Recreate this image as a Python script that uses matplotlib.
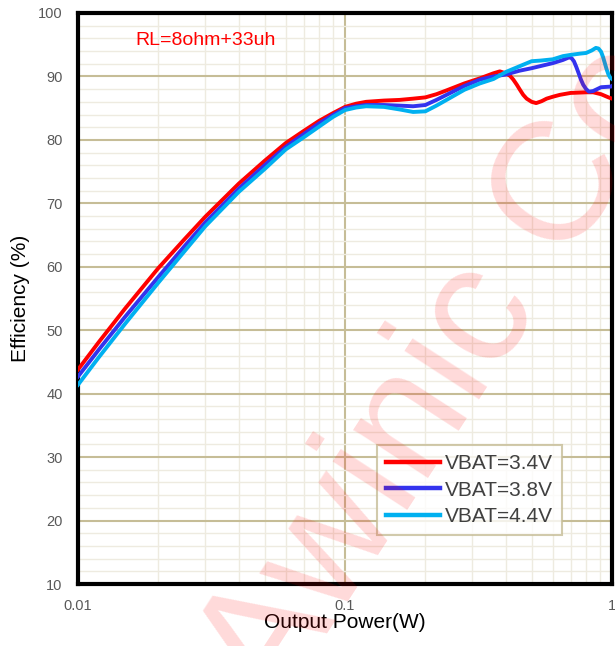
import numpy as np
import matplotlib.pyplot as plt
from matplotlib.ticker import MultipleLocator, LogLocator, FixedLocator, FixedFormatter, NullFormatter

plt.rcParams['font.family'] = ['Liberation Sans', 'DejaVu Sans']

# Datos
x_lo = [0.01, 0.012, 0.015, 0.02, 0.025, 0.03, 0.04, 0.05, 0.06, 0.07, 0.08, 0.09, 0.1]
red_lo = [43.8, 48.2, 53.4, 59.8, 64.3, 67.9, 73.1, 76.7, 79.5, 81.4, 83.0, 84.2, 85.2]
blue_lo = [42.7, 47.0, 52.1, 58.4, 63.2, 67.0, 72.3, 76.0, 78.9, 80.9, 82.6, 83.9, 85.0]
cyan_lo = [41.4, 45.8, 51.0, 57.5, 62.4, 66.4, 71.8, 75.4, 78.5, 80.4, 82.1, 83.6, 84.7]

x_red_hi = [0.11, 0.12, 0.14, 0.16, 0.18, 0.2, 0.22, 0.24, 0.28, 0.32, 0.36, 0.38, 0.4,
            0.415, 0.427, 0.44, 0.452, 0.465, 0.479, 0.5, 0.52, 0.545, 0.569, 0.6, 0.638,
            0.7, 0.8, 0.85, 0.91, 0.97, 1.0]
red_hi = [85.7, 86.0, 86.2, 86.3, 86.5, 86.7, 87.2, 87.8, 88.9, 89.7, 90.5, 90.8, 90.5,
          90.1, 89.5, 88.7, 87.9, 87.1, 86.5, 86.0, 85.8, 86.1, 86.5, 86.8, 87.1,
          87.4, 87.5, 87.5, 87.2, 86.7, 86.5]

x_blue_hi = [0.11, 0.12, 0.14, 0.16, 0.18, 0.2, 0.22, 0.24, 0.28, 0.32, 0.36, 0.4, 0.45,
             0.5, 0.6, 0.655, 0.69, 0.705, 0.72, 0.735, 0.75, 0.765, 0.78, 0.8, 0.82,
             0.85, 0.91, 0.99, 1.0]
blue_hi = [85.3, 85.5, 85.5, 85.4, 85.3, 85.5, 86.3, 87.1, 88.5, 89.5, 90.0, 90.3, 90.9,
           91.3, 92.1, 92.6, 93.0, 92.9, 92.4, 91.5, 90.5, 89.5, 88.7, 88.0, 87.6,
           87.7, 88.3, 88.4, 88.5]

x_cyan_hi = [0.11, 0.12, 0.14, 0.16, 0.18, 0.2, 0.22, 0.24, 0.28, 0.32, 0.36, 0.4, 0.45,
             0.5, 0.54, 0.6, 0.655, 0.7, 0.76, 0.8, 0.84, 0.87, 0.89, 0.91, 0.925, 0.94,
             0.955, 0.97, 0.985, 1.0]
cyan_hi = [85.1, 85.3, 85.2, 84.8, 84.4, 84.5, 85.4, 86.3, 87.9, 88.9, 89.6, 90.7, 91.6,
           92.4, 92.5, 92.7, 93.2, 93.4, 93.6, 93.7, 94.1, 94.5, 94.4, 93.9, 93.1, 92.1,
           91.1, 90.3, 89.8, 89.6]

labels = ["VBAT=3.4V", "VBAT=3.8V", "VBAT=4.4V"]
colores = ["#ff0000", "#3333ee", "#00b0f0"]

x_red = x_lo + x_red_hi
x_blue = x_lo + x_blue_hi
x_cyan = x_lo + x_cyan_hi
red = red_lo + red_hi
blue = blue_lo + blue_hi
cyan = cyan_lo + cyan_hi

fig = plt.figure(figsize=(6.15, 6.46), dpi=100)
ax = fig.add_axes([78/615, 1 - 584/646, (612 - 78)/615, (584 - 13)/646])

ax.plot(x_red, red, color=colores[0], linewidth=2.8, label=labels[0], zorder=3,
        solid_joinstyle='round')
ax.plot(x_blue, blue, color=colores[1], linewidth=2.8, label=labels[1], zorder=3,
        solid_joinstyle='round')
ax.plot(x_cyan, cyan, color=colores[2], linewidth=2.8, label=labels[2], zorder=3,
        solid_joinstyle='round')

ax.set_xscale('log')
ax.set_xlim(0.01, 1)
ax.set_ylim(10, 100)

ax.xaxis.set_major_locator(FixedLocator([0.01, 0.1, 1]))
ax.xaxis.set_major_formatter(FixedFormatter(["0.01", "0.1", "1"]))
ax.xaxis.set_minor_locator(LogLocator(base=10, subs=np.arange(2, 10)))
ax.xaxis.set_minor_formatter(NullFormatter())
ax.yaxis.set_major_locator(MultipleLocator(10))
ax.yaxis.set_minor_locator(MultipleLocator(2))

ax.grid(True, which='minor', color='#eeebe0', linewidth=1.0, zorder=0)
ax.grid(True, which='major', color='#c6bd97', linewidth=1.5, zorder=1)
ax.set_axisbelow(True)
ax.tick_params(which='both', length=0, labelsize=10.5, labelcolor='#595959', pad=11)

for s in ax.spines.values():
    s.set_linewidth(3)
    s.set_color('black')

ax.set_xlabel("Output Power(W)", fontsize=15, labelpad=0)
ax.set_ylabel("Efficiency (%)", fontsize=15, labelpad=6)

ax.text(0.107, 0.952, "RL=8ohm+33uh", transform=ax.transAxes, color='red', fontsize=14,
        va='center', ha='left')

leg = ax.legend(loc='lower left', bbox_to_anchor=(0.560, 0.086), fontsize=15,
                frameon=True, fancybox=False, handlelength=2.6, handletextpad=0.25,
                borderpad=0.42, borderaxespad=0, labelspacing=0.36)
leg.get_frame().set_edgecolor('#c6bd97')
leg.get_frame().set_linewidth(1.5)
for t in leg.get_texts():
    t.set_color('#404040')
for l in leg.get_lines():
    l.set_linewidth(3.2)

# Marca de agua
fig.text(275/615, 1 - 714/646, "Awinic Confidential", fontsize=122, color='red', alpha=0.15,
         rotation=57, rotation_mode='anchor', ha='left', va='baseline', zorder=10)

fig.savefig("out.png", dpi=100)
